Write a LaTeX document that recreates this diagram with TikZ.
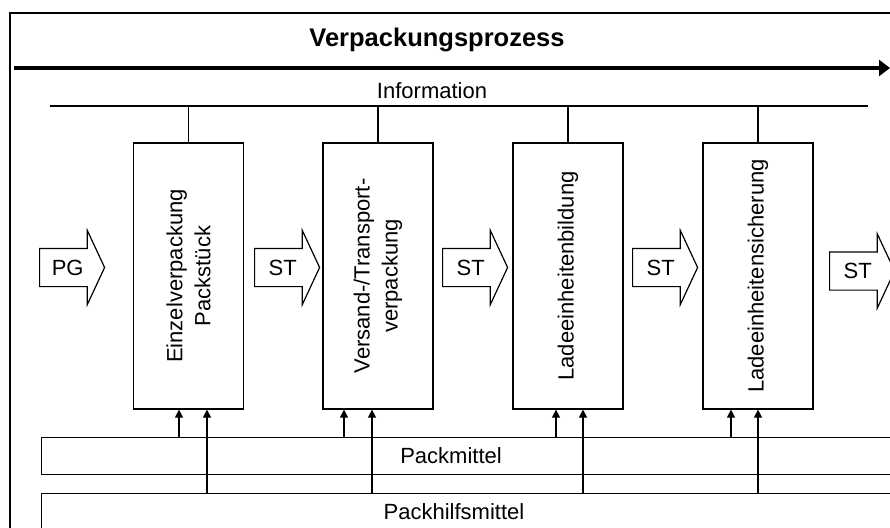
\documentclass[tikz,border=0pt]{standalone}
\usepackage{fontspec}
\setmainfont{Liberation Sans}
\usetikzlibrary{positioning,calc,shapes.arrows,arrows.meta}

\begin{document}
\begin{tikzpicture}[x=1pt, y=-1pt, line width=1.2pt, font=\fontsize{22}{28}\selectfont]
\tikzset{StepStyle/.style = {draw, rotate=90, align=center, minimum width=266pt, minimum height=110pt, inner sep=0pt}}
\tikzset{FlowStyle/.style = {draw, single arrow, anchor=tail, single arrow head extend=18pt, single arrow tip angle=130,
  minimum height=65pt, inner xsep=6pt, inner ysep=11pt, text height=15pt, text depth=0pt}}
\tikzset{BarStyle/.style = {draw, anchor=north west, minimum width=900pt, inner sep=0pt}}
\tikzset{FeedStyle/.style = {-{Triangle[length=8pt, width=8pt]}}}
  \useasboundingbox (0,0) rectangle (890,527);
  \clip (0,0) rectangle (890,527);
  \draw (10,13) rectangle (920,560);
  % Prozess
  \node[font=\fontsize{25.5}{30}\selectfont\bfseries] (title) at (437,40) {Verpackungsprozess};
  \coordinate (pstart) at (14,68);
  \coordinate (pend) at (890,68);
  \draw[line width=4pt, -{Triangle[length=11pt, width=16pt]}] (pstart) -- (pend);
  % Information
  \node (info) at (432,91) {Information};
  \coordinate (il) at (50,106);
  \coordinate (ir) at (868,106);
  \draw (il) -- (ir);
  % Stufen
  \node[StepStyle] (s1) at (188.5,276) {Einzelverpackung\\Packstück};
  \node[StepStyle] (s2) at (378,276) {Versand-/Transport-\\verpackung};
  \node[StepStyle] (s3) at (568,276) {Ladeeinheitenbildung};
  \node[StepStyle] (s4) at (758,276) {Ladeeinheitensicherung};
  \foreach \b in {s1,s2,s3,s4}
    \draw (\b.east) -- (\b.east |- il);
  % Gueterfluss
  \node[FlowStyle] (pg) at (39,267.5) {PG};
  \node[FlowStyle] (st1) at (254,267.5) {ST};
  \node[FlowStyle] (st2) at (442,267.5) {ST};
  \node[FlowStyle] (st3) at (632,267.5) {ST};
  \node[FlowStyle] (st4) at (829,271) {ST};
  % Mittel
  \node[BarStyle, minimum height=37pt] (pm) at (41,437) {};
  \node[BarStyle, minimum height=60pt] (ph) at (41,493) {};
  \node (pmtext) at (451,455.5) {Packmittel};
  \node (phtext) at (454,512) {Packhilfsmittel};
  \foreach \b/\u/\v in {s1/-9.5/18.5, s2/-34/-6, s3/-12/15, s4/-27/0} {
    \draw[FeedStyle] ($(\b.west |- pm.north)+(\u,0)$) -- ($(\b.west)+(\u,0)$);
    \draw[FeedStyle] ($(\b.west |- ph.north)+(\v,0)$) -- ($(\b.west)+(\v,0)$);
  }
\end{tikzpicture}
\end{document}
